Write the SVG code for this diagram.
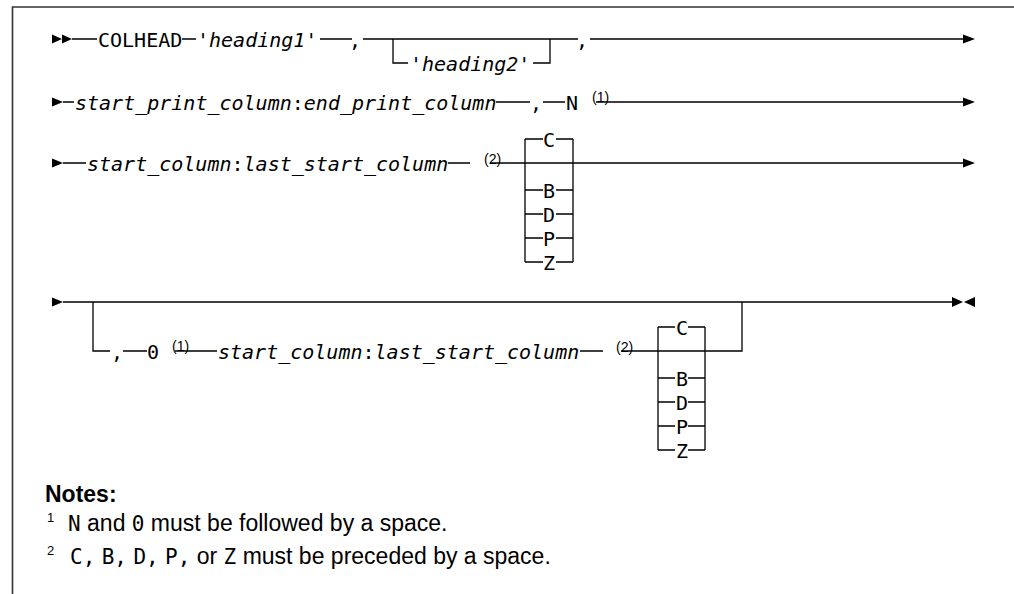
<svg xmlns="http://www.w3.org/2000/svg" width="1014" height="594" viewBox="0 0 1014 594">
<style>
.m{font-family:"DejaVu Sans Mono","Liberation Mono",monospace;font-size:20px;fill:#000}
.i{font-style:italic}
.sup{font-family:"Liberation Sans",Arial,sans-serif;font-size:14px;fill:#000}
.n{font-family:"Liberation Sans",Arial,sans-serif;font-size:23px;fill:#000}
.nb{font-family:"Liberation Sans",Arial,sans-serif;font-size:23px;font-weight:bold;fill:#000}
.nm{font-family:"DejaVu Sans Mono","Liberation Mono",monospace;font-size:21px}
.ns{font-family:"Liberation Sans",Arial,sans-serif;font-size:13px;fill:#000}
.ln{stroke:#000;stroke-width:1.3;fill:none}
.ar{fill:#000}
.fr{stroke:#333;stroke-width:1.6;fill:none}
</style>
<rect width="1014" height="594" fill="#fff"/>
<path class="fr" d="M12.5,594 V7 H1014"/>
<g id="connectors">
<polygon class="ar" points="52,34.5 62,39 52,43.5"/>
<polygon class="ar" points="62,34.5 72,39 62,43.5"/>
<path class="ln" d="M72,39 H97 M182,39 H196 M320,39 H352 M363,39 H578 M393,39 V63 H408 M533,63 H550 V39 M590,39 H963"/>
<polygon class="ar" points="963,34.5 975,39 963,43.5"/>
<polygon class="ar" points="52,97.5 63,102 52,106.5"/>
<path class="ln" d="M63,102 H74 M496,102 H530 M543,102 H565 M596,102 H963"/>
<polygon class="ar" points="963,97.5 975,102 963,106.5"/>
<polygon class="ar" points="52,158.5 63,163 52,167.5"/>
<path class="ln" d="M63,163 H86 M448,163 H470 M490,163 H963"/>
<polygon class="ar" points="963,158.5 975,163 963,167.5"/>
<path class="ln" d="M525,139 V262 M573,139 V262 M525,139 H543 M556,139 H573 M525,190 H543 M556,190 H573 M525,214 H543 M556,214 H573 M525,238 H543 M556,238 H573 M525,262 H543 M556,262 H573"/>
<polygon class="ar" points="52,297.5 63,302 52,306.5"/>
<path class="ln" d="M63,302 H952 M93,302 V351 H110 M123,351 H147 M175,351 H217 M580,351 H603 M621,351 H742 V302"/>
<polygon class="ar" points="952,297 963,302 952,307"/>
<polygon class="ar" points="975,297 964,302 975,307"/>
<path class="ln" d="M658,327 V450 M705,327 V450 M658,327 H675 M688,327 H705 M658,378 H675 M688,378 H705 M658,402 H675 M688,402 H705 M658,426 H675 M688,426 H705 M658,450 H675 M688,450 H705"/>
</g>
<g id="row1">
<text id="colhead" class="m" x="98" y="46.5">COLHEAD</text>
<text id="heading1" class="m i" x="197" y="46.5">'heading1'</text>
<text id="comma1" class="m" x="349" y="46.5">,</text>
<text id="heading2" class="m i" x="410" y="70.5">'heading2'</text>
<text id="comma2" class="m" x="576" y="46.5">,</text>
</g>
<g id="row2">
<text id="printcol" class="m" x="75" y="109.5"><tspan class="i">start_print_column</tspan>:<tspan class="i">end_print_column</tspan></text>
<text id="comma3" class="m" x="530" y="109.5">,</text>
<text id="n" class="m" x="566" y="109.5">N</text>
<text id="note1a" class="sup" x="592" y="102">(1)</text>
</g>
<g id="row3">
<text id="startcol1" class="m" x="87" y="170.5"><tspan class="i">start_column</tspan>:<tspan class="i">last_start_column</tspan></text>
<text id="note2a" class="sup" x="484" y="164">(2)</text>
<text class="m" x="543" y="146.5">C</text>
<text class="m" x="543" y="197.5">B</text>
<text class="m" x="543" y="221.5">D</text>
<text class="m" x="543" y="245.5">P</text>
<text class="m" x="543" y="269.5">Z</text>
</g>
<g id="row4">
<text id="comma4" class="m" x="111" y="358.5">,</text>
<text id="o" class="m" x="147" y="358.5">0</text>
<text id="note1b" class="sup" x="172" y="351">(1)</text>
<text id="startcol2" class="m" x="218" y="358.5"><tspan class="i">start_column</tspan>:<tspan class="i">last_start_column</tspan></text>
<text id="note2b" class="sup" x="616" y="352">(2)</text>
<text class="m" x="676" y="334.5">C</text>
<text class="m" x="676" y="385.5">B</text>
<text class="m" x="676" y="409.5">D</text>
<text class="m" x="676" y="433.5">P</text>
<text class="m" x="676" y="457.5">Z</text>
</g>
<g id="notes">
<text class="nb" x="45" y="502">Notes:</text>
<text class="ns" x="47" y="522">1</text>
<text class="n" y="531"><tspan class="nm" x="68">N</tspan> and <tspan class="nm">0</tspan> must be followed by a space.</text>
<text class="ns" x="47" y="555">2</text>
<text class="n" y="564"><tspan class="nm" x="70">C,</tspan> <tspan class="nm">B,</tspan> <tspan class="nm">D,</tspan> <tspan class="nm">P,</tspan> or <tspan class="nm">Z</tspan> must be preceded by a space.</text>
</g>
</svg>
